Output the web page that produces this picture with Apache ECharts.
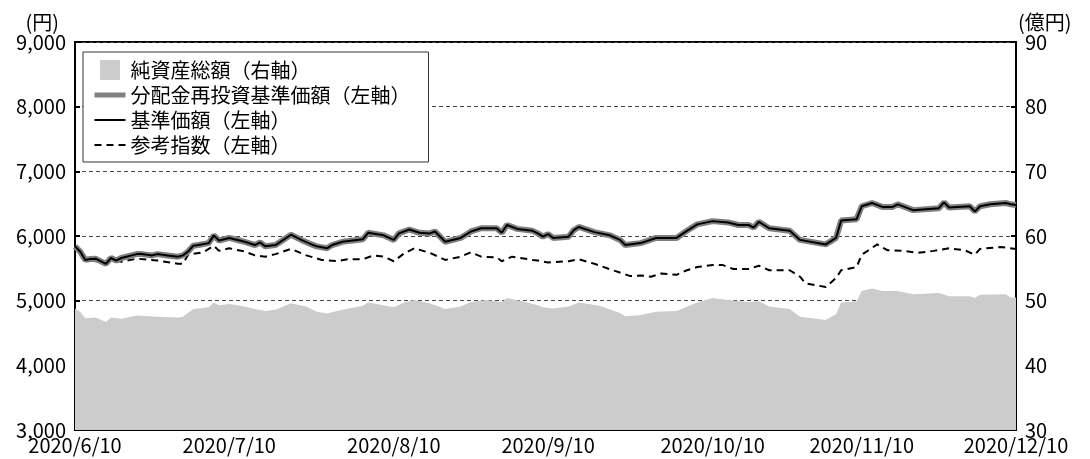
<!DOCTYPE html>
<html>
<head>
<meta charset="utf-8">
<script src="https://cdn.jsdelivr.net/npm/echarts@6/dist/echarts.min.js"></script>
<style>
html,body{margin:0;padding:0;background:#fff;}
#chart{width:1090px;height:459px;}
</style>
</head>
<body>
<div id="chart"></div>
<script>
// ---- data ----
const tickDates = ['2020-06-10','2020-07-10','2020-08-11','2020-09-10','2020-10-12','2020-11-10','2020-12-10'];
const tickLabels = ['2020/6/10','2020/7/10','2020/8/10','2020/9/10','2020/10/10','2020/11/10','2020/12/10'];
const seriesNames = ['純資産総額（右軸）','分配金再投資基準価額（左軸）','基準価額（左軸）','参考指数（左軸）'];

// 基準価額 (円)
const navPrice = [
['2020-06-10',5840],['2020-06-11',5760],['2020-06-12',5630],['2020-06-13',5645],['2020-06-14',5650],['2020-06-16',5570],['2020-06-17',5660],['2020-06-18',5620],['2020-06-19',5660],['2020-06-22',5720],['2020-06-23',5720],['2020-06-25',5700],['2020-06-26',5720],['2020-06-28',5700],['2020-06-30',5680],
['2020-07-01',5700],['2020-07-02',5760],['2020-07-03',5850],['2020-07-04',5860],['2020-07-06',5890],['2020-07-07',6010],['2020-07-08',5930],['2020-07-10',5970],['2020-07-12',5930],['2020-07-13',5910],['2020-07-15',5860],['2020-07-16',5900],['2020-07-17',5840],['2020-07-19',5860],['2020-07-22',6020],['2020-07-24',5940],['2020-07-26',5870],['2020-07-27',5840],['2020-07-29',5810],['2020-07-30',5860],
['2020-08-01',5910],['2020-08-05',5950],['2020-08-06',6050],['2020-08-09',6010],['2020-08-11',5940],['2020-08-12',6040],['2020-08-14',6100],['2020-08-16',6050],['2020-08-18',6040],['2020-08-19',6070],['2020-08-21',5910],['2020-08-24',5970],['2020-08-26',6070],['2020-08-28',6120],['2020-08-31',6120],
['2020-09-01',6050],['2020-09-02',6170],['2020-09-04',6110],['2020-09-07',6080],['2020-09-08',6040],['2020-09-09',5990],['2020-09-10',6030],['2020-09-11',5970],['2020-09-14',5990],['2020-09-15',6090],['2020-09-16',6140],['2020-09-19',6060],['2020-09-22',6010],['2020-09-24',5940],['2020-09-25',5860],['2020-09-28',5890],
['2020-10-01',5970],['2020-10-05',5970],['2020-10-07',6080],['2020-10-09',6180],['2020-10-12',6230],['2020-10-15',6210],['2020-10-17',6170],['2020-10-19',6170],['2020-10-20',6130],['2020-10-21',6220],['2020-10-23',6120],['2020-10-25',6100],['2020-10-27',6080],['2020-10-29',5940],
['2020-11-03',5870],['2020-11-05',5970],['2020-11-06',6240],['2020-11-09',6260],['2020-11-10',6460],['2020-11-12',6510],['2020-11-14',6450],['2020-11-16',6450],['2020-11-17',6490],['2020-11-20',6400],['2020-11-25',6430],['2020-11-26',6520],['2020-11-27',6440],
['2020-12-01',6460],['2020-12-02',6380],['2020-12-03',6460],['2020-12-05',6490],['2020-12-08',6510],['2020-12-09',6490],['2020-12-10',6480]
];

// 分配金再投資基準価額 (円) — no distributions in the period, identical to 基準価額
const reinvestedPrice = navPrice;

// 参考指数 (円)
const benchmark = [
['2020-06-10',5840],['2020-06-11',5760],['2020-06-12',5630],['2020-06-15',5600],['2020-06-17',5630],['2020-06-19',5600],['2020-06-22',5650],['2020-06-26',5620],['2020-06-30',5570],
['2020-07-01',5570],['2020-07-02',5710],['2020-07-05',5750],['2020-07-07',5850],['2020-07-08',5770],['2020-07-10',5810],['2020-07-13',5760],['2020-07-15',5700],['2020-07-17',5680],['2020-07-19',5720],['2020-07-22',5800],['2020-07-25',5700],['2020-07-28',5630],['2020-07-31',5610],
['2020-08-02',5640],['2020-08-05',5640],['2020-08-07',5700],['2020-08-09',5680],['2020-08-11',5610],['2020-08-13',5730],['2020-08-15',5810],['2020-08-18',5740],['2020-08-21',5630],['2020-08-24',5680],['2020-08-26',5750],['2020-08-28',5680],['2020-08-31',5670],
['2020-09-01',5610],['2020-09-03',5680],['2020-09-07',5630],['2020-09-08',5620],['2020-09-10',5590],['2020-09-14',5610],['2020-09-16',5640],['2020-09-19',5570],['2020-09-23',5460],['2020-09-26',5380],['2020-09-28',5390],['2020-09-30',5370],
['2020-10-02',5420],['2020-10-05',5400],['2020-10-07',5470],['2020-10-09',5520],['2020-10-12',5550],['2020-10-14',5550],['2020-10-16',5490],['2020-10-19',5490],['2020-10-21',5540],['2020-10-23',5470],['2020-10-27',5470],['2020-10-29',5370],['2020-10-30',5270],
['2020-11-03',5210],['2020-11-05',5350],['2020-11-06',5470],['2020-11-09',5520],['2020-11-10',5710],['2020-11-13',5870],['2020-11-15',5780],['2020-11-18',5770],['2020-11-21',5740],['2020-11-24',5770],['2020-11-27',5810],['2020-11-30',5780],
['2020-12-02',5710],['2020-12-03',5800],['2020-12-07',5830],['2020-12-10',5800]
];

// 純資産総額 (億円)
const netAssets = [
['2020-06-10',48.8],['2020-06-11',48.3],['2020-06-12',47.3],['2020-06-14',47.4],['2020-06-16',46.7],['2020-06-17',47.4],['2020-06-19',47.2],['2020-06-22',47.7],['2020-06-26',47.5],['2020-06-30',47.4],
['2020-07-01',47.5],['2020-07-03',48.7],['2020-07-06',49.0],['2020-07-07',49.7],['2020-07-08',49.3],['2020-07-10',49.5],['2020-07-13',49.1],['2020-07-15',48.7],['2020-07-17',48.4],['2020-07-19',48.6],['2020-07-22',49.6],['2020-07-25',49.1],['2020-07-27',48.3],['2020-07-29',48.0],
['2020-08-01',48.6],['2020-08-05',49.2],['2020-08-06',49.7],['2020-08-09',49.3],['2020-08-11',49.0],['2020-08-13',49.7],['2020-08-15',50.1],['2020-08-18',49.6],['2020-08-21',48.7],['2020-08-24',49.1],['2020-08-26',49.8],['2020-08-29',50.1],
['2020-09-01',49.8],['2020-09-02',50.4],['2020-09-05',49.9],['2020-09-08',49.3],['2020-09-09',49.0],['2020-09-11',48.8],['2020-09-14',49.1],['2020-09-16',49.7],['2020-09-20',49.2],['2020-09-24',48.1],['2020-09-25',47.6],['2020-09-28',47.8],
['2020-10-01',48.3],['2020-10-05',48.4],['2020-10-09',49.7],['2020-10-12',50.4],['2020-10-15',50.1],['2020-10-19',49.8],['2020-10-21',49.9],['2020-10-23',49.1],['2020-10-27',48.7],['2020-10-29',47.5],
['2020-11-03',47.0],['2020-11-05',47.9],['2020-11-06',49.7],['2020-11-09',49.9],['2020-11-10',51.5],['2020-11-12',51.9],['2020-11-14',51.5],['2020-11-17',51.5],['2020-11-20',51.0],['2020-11-25',51.2],['2020-11-27',50.7],
['2020-12-01',50.7],['2020-12-02',50.4],['2020-12-03',50.9],['2020-12-08',51.0],['2020-12-09',50.5],['2020-12-10',50.5]
];

// ---- chart ----
const FONT = '"Noto Sans CJK JP", "Noto Sans", sans-serif';
const toTime = d => echarts.time.parse(d).getTime();
const toPoints = arr => arr.map(p => [toTime(p[0]), p[1]]);
const tickTimes = tickDates.map(toTime);
const tickLabelMap = {};
tickTimes.forEach((t, i) => { tickLabelMap[t] = tickLabels[i]; });

const chart = echarts.init(document.getElementById('chart'), null, {renderer: 'canvas'});
chart.setOption({
  animation: false,
  textStyle: {fontFamily: FONT},
  grid: {left: 75, right: 74, top: 42, bottom: 29, show: true, borderColor: '#000', borderWidth: 2, backgroundColor: 'transparent'},
  legend: {
    orient: 'vertical',
    left: 83, top: 52,
    padding: [8, 18, 7, 9],
    itemGap: 5,
    itemWidth: 31, itemHeight: 20,
    itemTextGap: 7,
    backgroundColor: '#fff',
    borderColor: '#333',
    borderWidth: 1,
    borderRadius: 0,
    textStyle: {fontSize: 20, color: '#000', fontFamily: FONT},
    data: [
      {name: seriesNames[0], icon: 'path://M0,0H10V10H0Z', itemStyle: {color: '#cccccc'}},
      {name: seriesNames[1], itemStyle: {opacity: 0}, lineStyle: {width: 5, color: '#808080'}},
      {name: seriesNames[2], itemStyle: {opacity: 0}, lineStyle: {width: 2, color: '#000'}},
      {name: seriesNames[3], itemStyle: {opacity: 0}, lineStyle: {width: 2, color: '#000', type: [7, 5]}}
    ]
  },
  xAxis: {
    type: 'value',
    min: tickTimes[0],
    max: tickTimes[tickTimes.length - 1],
    axisLine: {show: true, onZero: false, lineStyle: {color: '#000', width: 2}},
    axisTick: {show: true, inside: true, length: 6, lineStyle: {color: '#000', width: 2}, customValues: tickTimes},
    splitLine: {show: false},
    axisLabel: {
      customValues: tickTimes,
      showMinLabel: true, showMaxLabel: true,
      margin: 5,
      fontSize: 20, color: '#000', fontFamily: FONT,
      formatter: function (v) { return tickLabelMap[v] || ''; }
    }
  },
  yAxis: [
    {
      type: 'value', min: 3000, max: 9000, interval: 1000,
      name: '(円)',
      nameLocation: 'end', nameGap: 8,
      nameTextStyle: {fontSize: 20, color: '#000', fontFamily: FONT, align: 'right', padding: [0, 16, 0, 0]},
      axisLine: {show: true, lineStyle: {color: '#000', width: 2}},
      axisTick: {show: true, inside: true, length: 5, lineStyle: {color: '#000', width: 2}},
      axisLabel: {
        margin: 9, fontSize: 20, color: '#000', fontFamily: FONT,
        formatter: function (v) { return String(v).replace(/\B(?=(\d{3})+(?!\d))/g, ','); }
      },
      splitLine: {show: true, lineStyle: {color: '#444', width: 1, type: [4, 3]}}
    },
    {
      type: 'value', min: 30, max: 90, interval: 10,
      name: '(億円)',
      nameLocation: 'end', nameGap: 8,
      nameTextStyle: {fontSize: 20, color: '#000', fontFamily: FONT, align: 'left', padding: [0, 0, 0, 2]},
      axisLine: {show: true, lineStyle: {color: '#000', width: 2}},
      axisTick: {show: true, inside: true, length: 5, lineStyle: {color: '#000', width: 2}},
      axisLabel: {margin: 9, fontSize: 20, color: '#000', fontFamily: FONT},
      splitLine: {show: false}
    }
  ],
  series: [
    {
      name: seriesNames[0], type: 'line', yAxisIndex: 1,
      data: toPoints(netAssets), showSymbol: false, symbol: 'none',
      lineStyle: {width: 0, color: '#cccccc'},
      itemStyle: {color: '#cccccc'},
      areaStyle: {color: '#cccccc', opacity: 1},
      z: 1
    },
    {
      name: seriesNames[1], type: 'line', yAxisIndex: 0,
      data: toPoints(reinvestedPrice), showSymbol: false, symbol: 'none',
      lineStyle: {width: 6, color: '#808080'},
      itemStyle: {color: '#808080'},
      z: 3
    },
    {
      name: seriesNames[2], type: 'line', yAxisIndex: 0,
      data: toPoints(navPrice), showSymbol: false, symbol: 'none',
      lineStyle: {width: 2, color: '#000'},
      itemStyle: {color: '#000'},
      z: 4
    },
    {
      name: seriesNames[3], type: 'line', yAxisIndex: 0,
      data: toPoints(benchmark), showSymbol: false, symbol: 'none',
      lineStyle: {width: 2, color: '#000', type: [7, 5]},
      itemStyle: {color: '#000'},
      z: 2
    }
  ]
});
</script>
</body>
</html>
